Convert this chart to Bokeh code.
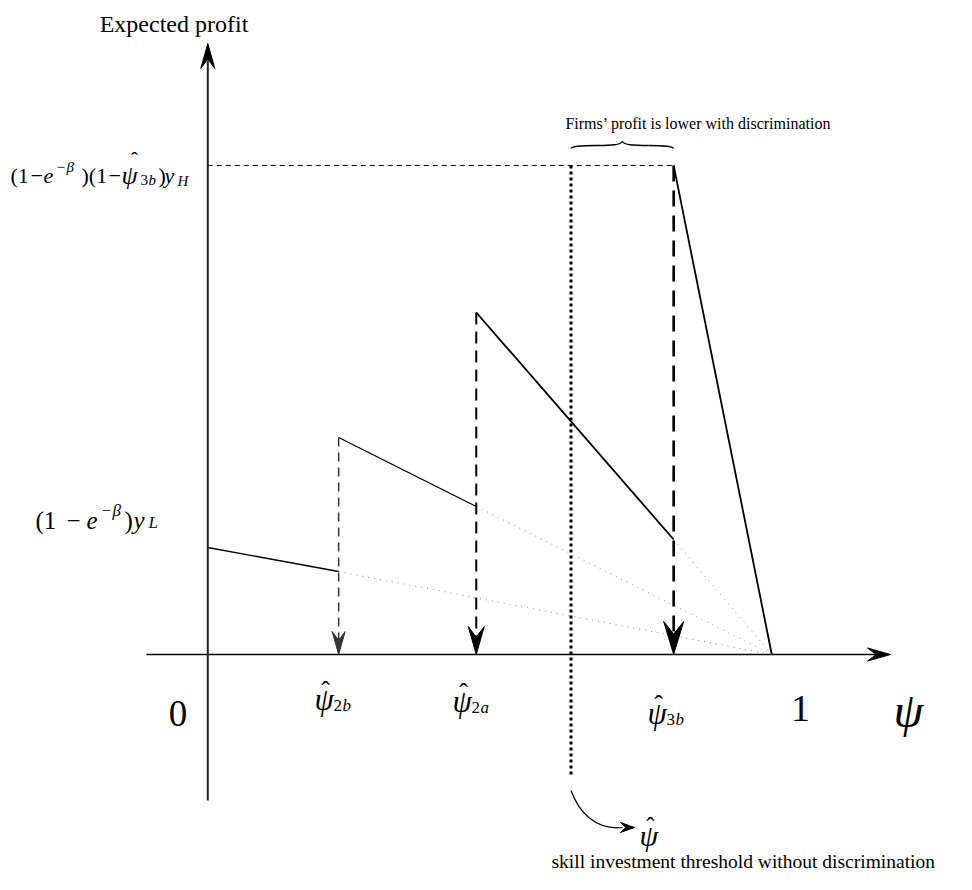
from bokeh.plotting import figure
from bokeh.models import Range1d
from bokeh.core.properties import value
from bokeh.embed import file_html
from bokeh.resources import INLINE

# ---------------- data ----------------
threshold_names = ["2b", "2a", "3b"]
psi_thr = [0.232, 0.476, 0.826]          # psi_2b, psi_2a, psi_3b
psi_hat = 0.644                           # threshold without discrimination
seg_x0 = [0.0, 0.232, 0.476, 0.826]       # solid profit segments
seg_x1 = [0.232, 0.476, 0.826, 1.0]
seg_y0 = [1.07, 2.17, 3.42, 4.89]
seg_y1 = [0.83, 1.48, 1.15, 0.0]
seg_w = [1.3, 1.3, 1.8, 1.8]
y_high = 4.89                             # (1-e^-b)(1-psi3b) yH
psi_one = 1.0

# ---------------- layout ----------------
W, H = 956, 874
PX_X, PX_Y = 564.0, 100.0                 # pixels per unit
X0, Y0 = 207.3, 654.0                     # pixel of the origin


def dx(px):   # picture pixel -> data x
    return (px - X0) / PX_X


def dy(py):   # picture pixel -> data y
    return (Y0 - py) / PX_Y


p = figure(width=W, height=H, output_backend="svg", toolbar_location=None,
           x_range=Range1d(-X0 / PX_X, (W - X0) / PX_X),
           y_range=Range1d(-(H - Y0) / PX_Y, Y0 / PX_Y),
           x_axis_location=None, y_axis_location=None, min_border=0,
           outline_line_color=None, background_fill_color="white",
           border_fill_color="white")
p.grid.visible = False

FONT = "Liberation Serif"


def head(tx, ty, ux, uy, L, Wd, color="black"):
    """arrow head with tip at data (tx,ty), screen direction (ux,uy) (y down)"""
    nx, ny = -uy, ux
    pts = [(0, 0), (-L * ux + Wd / 2 * nx, -L * uy + Wd / 2 * ny),
           (-0.62 * L * ux, -0.62 * L * uy),
           (-L * ux - Wd / 2 * nx, -L * uy - Wd / 2 * ny)]
    xs = [tx + a / PX_X for a, b in pts]
    ys = [ty - b / PX_Y for a, b in pts]
    p.patch(xs, ys, fill_color=color, line_color=color, line_width=1)


def txt(x, y, s, size, style="normal", align="left"):
    p.text(x=[x], y=[y], text=[s], text_font=value(FONT),
           text_font_size=f"{size}px", text_font_style=style,
           text_align=align, text_baseline="alphabetic", text_color="black")


def pieces(base_y, items):
    # items: (text, picture_x, dy_px, size, style[, align])
    for it in items:
        s, px, off, size, style = it[:5]
        align = it[5] if len(it) > 5 else "left"
        txt(dx(px), dy(base_y + off), s, size, style, align)


HAT = "\u02c6"
PSI = "\u03c8"

# ---------------- axes ----------------
p.segment(x0=[dx(146)], y0=[0], x1=[dx(875)], y1=[0], line_color="black", line_width=1.5)
head(dx(890), 0, 1, 0, 23, 13)
p.segment(x0=[0], y0=[dy(800)], x1=[0], y1=[dy(60)], line_color="#222222", line_width=2)
head(0, dy(43), 0, -1, 25, 14)

# ---------------- profit lines ----------------
p.segment(x0=seg_x0, y0=seg_y0, x1=seg_x1, y1=seg_y1, line_color="black", line_width=seg_w)
p.segment(x0=seg_x1[:3], y0=seg_y1[:3], x1=[psi_one] * 3, y1=[0] * 3,
          line_color="#8a8a8a", line_width=1, line_dash="1 5")

# vertical dashed arrows at the thresholds
v_w = [1.5, 2.0, 2.6]
v_dash = ["9 6", "12 7", "16 9"]
v_col = ["#333333", "black", "black"]
v_head = [(23, 13), (28, 16), (33, 20)]
for i in range(3):
    p.segment(x0=[psi_thr[i]], y0=[seg_y0[i + 1]], x1=[psi_thr[i]], y1=[v_head[i][0] * 0.5 / PX_Y],
              line_color=v_col[i], line_width=v_w[i], line_dash=v_dash[i])
    head(psi_thr[i], 0, 0, 1, v_head[i][0], v_head[i][1], v_col[i])

# horizontal dashed at high level
p.segment(x0=[0], y0=[y_high], x1=[psi_thr[2]], y1=[y_high], line_color="black",
          line_width=1, line_dash="5 4")
# psi_hat dotted line
p.segment(x0=[psi_hat], y0=[y_high], x1=[psi_hat], y1=[dy(775)], line_color="black",
          line_width=3, line_dash="3 3")

# brace above psi_hat .. psi_3b
bl, br = psi_hat, psi_thr[2]
bm = (bl + br) / 2
ye, yb, yt = y_high + 17 / PX_Y, y_high + 20 / PX_Y, y_high + 24 / PX_Y
q = 25 / PX_X
p.bezier(x0=[bl, bl + q, br, br - q], y0=[ye, yb, ye, yb],
         x1=[bl + q, bm, br - q, bm], y1=[yb, yt, yb, yt],
         cx0=[bl + 1 / PX_X, bl + q + 17 / PX_X, br - 1 / PX_X, br - q - 17 / PX_X],
         cy0=[yb - 0.5 / PX_Y, yb, yb - 0.5 / PX_Y, yb],
         cx1=[bl + 10 / PX_X, bm - 2 / PX_X, br - 10 / PX_X, bm + 2 / PX_X],
         cy1=[yb, yb + 0.5 / PX_Y, yb, yb + 0.5 / PX_Y],
         line_color="black", line_width=1.4)

# curved arrow to psi_hat label
p.bezier(x0=[psi_hat], y0=[dy(790)], x1=[dx(622)], y1=[dy(827)],
         cx0=[dx(578)], cy0=[dy(811)], cx1=[dx(595)], cy1=[dy(830)],
         line_color="black", line_width=1.2)
head(dx(634), dy(827), 1, 0, 14, 10)

# ---------------- texts ----------------
txt(dx(173.5), dy(23), "Expected profit", 24, align="center")
txt(dx(698), dy(123), "Firms\u2019 profit is lower with discrimination", 16, align="center")

pieces(175, [("(1", 10, 0, 22, "normal"), ("\u2212", 30, 0, 22, "normal"),
             ("e", 43, 0, 22, "italic"), ("\u2212", 56, -9, 15, "normal"),
             ("\u03b2", 66, -9, 15, "italic"), (")(1", 81, 0, 22, "normal"),
             ("\u2212", 108, 0, 22, "normal"), (PSI, 121, 0, 26, "italic"),
             (HAT, 134, -16, 22, "normal", "center"),
             ("3", 140, 4, 15, "normal"), ("b", 148, 4, 15, "italic"),
             (")", 158, 0, 22, "normal"), ("y", 164, 0, 22, "italic"),
             ("H", 177, 5, 15, "italic")])

pieces(520, [("(1", 35, 0, 25, "normal"), ("\u2212", 66, 0, 25, "normal"),
             ("e", 86, 0, 25, "italic"), ("\u2212", 101, -10, 17, "normal"),
             ("\u03b2", 112, -10, 17, "italic"), (")", 124, 0, 25, "normal"),
             ("y", 133, 0, 25, "italic"), ("L", 148, 2, 17, "italic")])

txt(dx(177.5), dy(713), "0", 37, align="center")
txt(dx(800), dy(708), "1", 38, align="center")
txt(dx(908), dy(710), PSI, 48, "italic", align="center")

lab_x = [314, 452, 647]
lab_base = [699, 701, 713]
for i in range(3):
    pieces(lab_base[i], [(PSI, lab_x[i], 0, 31, "italic"),
                         (HAT, lab_x[i] + 11, -9, 26, "normal", "center"),
                         (threshold_names[i][0], lab_x[i] + 19, 6, 17, "normal"),
                         (threshold_names[i][1], lab_x[i] + 28, 6, 17, "italic")])

pieces(835, [(PSI, 639, 0, 30, "italic"), (HAT, 650, -9, 25, "normal", "center")])
txt(dx(551), dy(861), "skill investment threshold without discrimination", 19.5)

open("out.html", "w").write(file_html(p, INLINE))
